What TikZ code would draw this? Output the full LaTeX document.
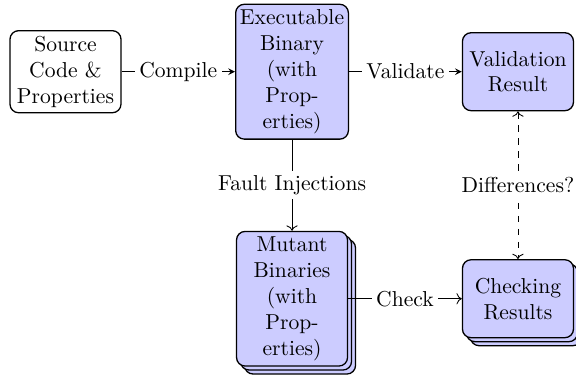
\documentclass[tikz,border=0pt]{standalone}
\usetikzlibrary{shadows,arrows.meta}
\begin{document}
\begin{tikzpicture}[x=1pt,y=1pt,
  box/.style={draw, semithick, rounded corners=4pt, align=center, minimum width=51.4pt,
    inner xsep=2pt, inner ysep=2.5pt, minimum height=36.1pt},
  stage/.style={box, fill=blue!20},
  multi/.style={stage,
    copy shadow={shadow xshift=3.7pt, shadow yshift=-3.7pt, fill=blue!20, draw=black},
    copy shadow={shadow xshift=1.85pt, shadow yshift=-1.85pt, fill=blue!20, draw=black}},
  lbl/.style={fill=white, inner sep=2pt},
  flow/.style={->},
  topflow/.style={-stealth},
  diff/.style={<->, dashed},
]
\useasboundingbox (0,0) rectangle (266.67,-173.6);
\node[box] (src) at (30.32,-33.2) {Source\\Code \&\\Properties};
\node[stage] (exe) at (135.2,-33.2) {Executable\\Binary\\(with\\Prop-\\erties)};
\node[stage] (val) at (239.8,-33.2) {Validation\\Result};
\node[multi] (mut) at (135.2,-138.3) {Mutant\\Binaries\\(with\\Prop-\\erties)};
\node[multi] (chk) at (239.8,-138.3) {Checking\\Results};
\draw[topflow] (src) -- node[lbl] (l1) {Compile} (exe);
\draw[topflow] (exe) -- node[lbl] (l2) {Validate} (val);
\draw[flow] (exe) -- node[lbl] (l3) {Fault Injections} (mut);
\draw[flow] (mut) -- node[lbl] (l4) {Check} (chk);
\draw[diff] (val) -- node[lbl] (l5) {Differences?} (chk);
\end{tikzpicture}
\end{document}
